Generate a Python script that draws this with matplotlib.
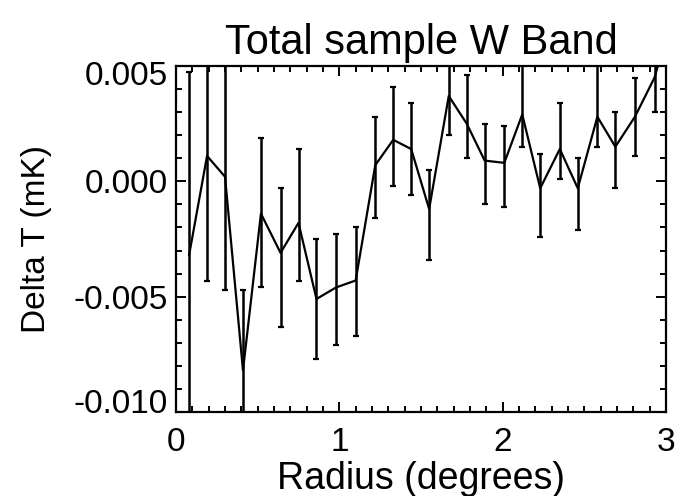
import numpy as np
import matplotlib
matplotlib.use("Agg")
import matplotlib.pyplot as plt
import matplotlib.transforms as mtransforms
from matplotlib.ticker import MultipleLocator, FormatStrFormatter

# radius bins (degrees) and mean delta T
radius = [0.08, 0.19, 0.30, 0.41, 0.52, 0.64, 0.75, 0.86, 0.98, 1.10,
          1.22, 1.33, 1.44, 1.55, 1.67, 1.78, 1.89, 2.01, 2.12, 2.23,
          2.35, 2.46, 2.58, 2.69, 2.81, 2.93, 3.04]
delta_t = [-0.0032, 0.0011, 0.0002, -0.0082, -0.0014, -0.0031, -0.0018, -0.0051, -0.0046, -0.0043,
           0.0007, 0.0018, 0.0014, -0.0012, 0.0037, 0.0025, 0.0009, 0.0008, 0.0029, -0.0003,
           0.0014, -0.0003, 0.0028, 0.0015, 0.0028, 0.0045, 0.0072]
# lower / upper ends of the error bars
err_lo = [-0.0110, -0.0043, -0.0047, -0.0118, -0.0046, -0.0063, -0.0043, -0.0077, -0.0071, -0.0067,
          -0.0016, -0.0002, -0.0006, -0.0034, 0.0020, 0.0010, -0.0010, -0.0011, 0.0015, -0.0024,
          0.0001, -0.0021, 0.0015, -0.0003, 0.0011, 0.0030, 0.0072]
err_hi = [0.00475, 0.0066, 0.0051, -0.0047, 0.0019, -0.0003, 0.0014, -0.0025, -0.0023, -0.0020,
          0.0028, 0.0041, 0.0034, 0.0005, 0.0056, 0.0046, 0.0025, 0.0024, 0.0055, 0.0012,
          0.0034, 0.0010, 0.0055, 0.0030, 0.0045, 0.0060, 0.0072]

plt.rcParams['font.family'] = ['Liberation Sans', 'DejaVu Sans']

x = np.array(radius)
y = np.array(delta_t)
yerr = np.vstack([y - np.array(err_lo), np.array(err_hi) - y])

fig = plt.figure(figsize=(6.77, 4.96), dpi=100)
ax = fig.add_axes([0.26, 0.1694, 0.7237, 0.6975])

ax.plot(x, y, color="black", lw=1.6)
ax.errorbar(x, y, yerr=yerr, fmt="none", ecolor="black", elinewidth=1.8,
            capsize=2.3, capthick=1.6)

ax.set_xlim(0, 3)
ax.set_ylim(-0.010, 0.005)
ax.xaxis.set_major_locator(MultipleLocator(1))
ax.xaxis.set_minor_locator(MultipleLocator(0.1))
ax.yaxis.set_major_locator(MultipleLocator(0.005))
ax.yaxis.set_minor_locator(MultipleLocator(0.001))
ax.yaxis.set_major_formatter(FormatStrFormatter("%.3f"))
ax.tick_params(which="both", direction="in", top=True, right=True,
               width=1.4, colors="black")
ax.tick_params(axis="y", labelsize=24, pad=6)
ax.tick_params(axis="x", labelsize=24, pad=11)
ax.tick_params(which="major", length=7.5)
ax.tick_params(which="minor", length=4)
for s in ax.spines.values():
    s.set_linewidth(1.6)

ax.set_title("Total sample W Band", fontsize=30, pad=9)
ax.set_xlabel("Radius (degrees)", fontsize=27, labelpad=2)
ax.set_ylabel("Delta T (mK)", fontsize=24, labelpad=15)

# end labels sit a little inside the axis range, as in the original
fig.canvas.draw()
down = mtransforms.ScaledTranslation(0, -7 / 100, fig.dpi_scale_trans)
up = mtransforms.ScaledTranslation(0, 11 / 100, fig.dpi_scale_trans)
for t in ax.yaxis.get_major_ticks():
    if abs(t.get_loc() - 0.005) < 1e-9:
        t.label1.set_transform(t.label1.get_transform() + down)
    elif abs(t.get_loc() + 0.010) < 1e-9:
        t.label1.set_transform(t.label1.get_transform() + up)

fig.savefig("out.png", dpi=100)
